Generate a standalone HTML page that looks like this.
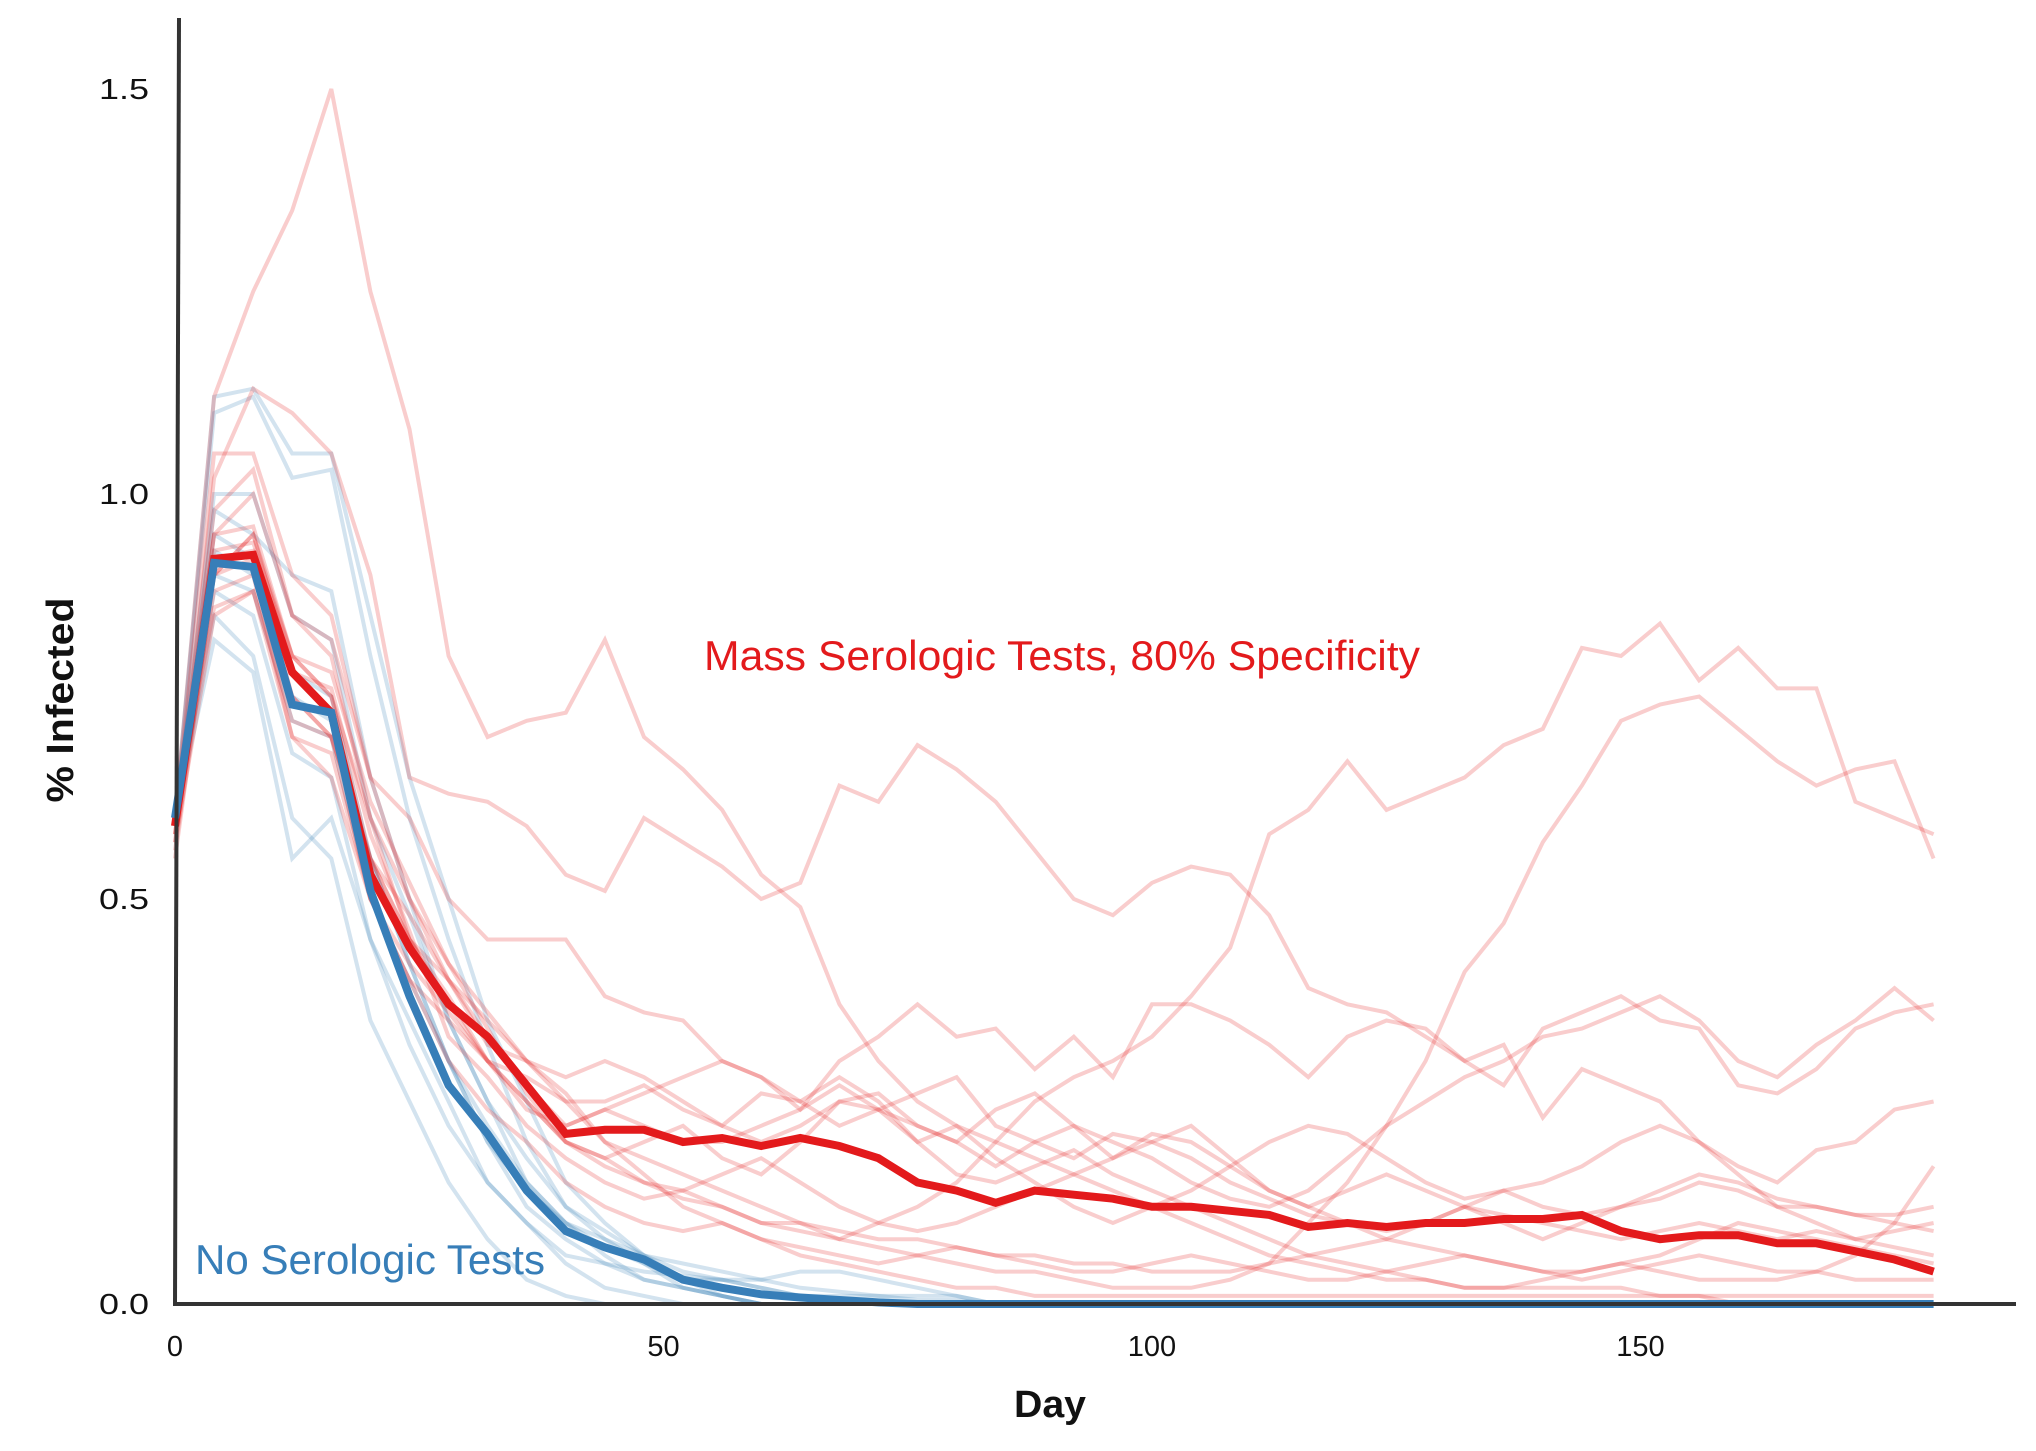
<!DOCTYPE html>
<html><head><meta charset="utf-8"><style>
html,body{margin:0;padding:0;background:#fff;}
svg{display:block;}
</style></head><body>
<svg id="chart" width="2036" height="1451" viewBox="0 0 2036 1451" xmlns="http://www.w3.org/2000/svg">
<g id="faint"></g>
<g id="means"></g>
<line x1="179" y1="18" x2="175" y2="1304" stroke="#333" stroke-width="4"/>
<line x1="173" y1="1304" x2="2016" y2="1304" stroke="#333" stroke-width="4"/>
<g id="ticks"></g>
<text transform="translate(73,700) rotate(-90)" text-anchor="middle" font-family="'Liberation Sans Narrow','Liberation Sans',sans-serif" font-weight="bold" font-size="38" textLength="205" lengthAdjust="spacingAndGlyphs" fill="#111">% Infected</text>
<text x="1014" y="1417" font-family="'Liberation Sans Narrow','Liberation Sans',sans-serif" font-weight="bold" font-size="38" textLength="72" lengthAdjust="spacingAndGlyphs" fill="#111">Day</text>
<text x="704" y="670" font-family="'Liberation Sans Narrow','Liberation Sans',sans-serif" font-size="42" textLength="716" lengthAdjust="spacingAndGlyphs" fill="#e31a1c">Mass Serologic Tests, 80% Specificity</text>
<text x="195" y="1274" font-family="'Liberation Sans Narrow','Liberation Sans',sans-serif" font-size="42" textLength="350" lengthAdjust="spacingAndGlyphs" fill="#377eb8">No Serologic Tests</text>
</svg>
<script>
const days = [];
for (let d = 0; d <= 180; d += 4) days.push(d);
const yTicks = [0, 0.5, 1.0, 1.5];
const yTickLabels = ["0.0", "0.5", "1.0", "1.5"];
const xTicks = [0, 50, 100, 150];
const xTickLabels = ["0", "50", "100", "150"];
const redMean = [0.59,0.92,0.925,0.78,0.73,0.53,0.44,0.37,0.33,0.27,0.21,0.215,0.215,0.2,0.205,0.195,0.205,0.195,0.18,0.15,0.14,0.125,0.14,0.135,0.13,0.12,0.12,0.115,0.11,0.095,0.1,0.095,0.1,0.1,0.105,0.105,0.11,0.09,0.08,0.085,0.085,0.075,0.075,0.065,0.055,0.04];
const blueMean = [0.6,0.915,0.91,0.74,0.73,0.51,0.38,0.27,0.21,0.14,0.09,0.07,0.055,0.03,0.02,0.012,0.008,0.005,0.002,0,0,0,0,0,0,0,0,0,0,0,0,0,0,0,0,0,0,0,0,0,0,0,0,0,0,0];
const redRuns = [
[0.6,1.12,1.25,1.35,1.5,1.25,1.08,0.8,0.7,0.72,0.73,0.82,0.7,0.66,0.61,0.53,0.49,0.37,0.3,0.25,0.22,0.2,0.18,0.16,0.14,0.12,0.1,0.08,0.06,0.05,0.04,0.03,0.03,0.02,0.02,0.02,0.02,0.02,0.01,0.01,0.01,0.01,0.01,0.01,0.01,0.01],
[0.57,1.02,1.13,1.1,1.05,0.9,0.65,0.63,0.62,0.59,0.53,0.51,0.6,0.57,0.54,0.5,0.52,0.64,0.62,0.69,0.66,0.62,0.56,0.5,0.48,0.52,0.54,0.53,0.48,0.39,0.37,0.36,0.33,0.3,0.32,0.23,0.29,0.27,0.25,0.2,0.16,0.12,0.1,0.08,0.07,0.06],
[0.58,0.95,1.0,0.85,0.8,0.6,0.45,0.4,0.35,0.3,0.25,0.2,0.18,0.16,0.14,0.12,0.1,0.08,0.1,0.12,0.15,0.2,0.25,0.28,0.3,0.33,0.38,0.44,0.58,0.61,0.67,0.61,0.63,0.65,0.69,0.71,0.81,0.8,0.84,0.77,0.81,0.76,0.76,0.62,0.6,0.58],
[0.6,0.9,0.95,0.8,0.75,0.55,0.45,0.37,0.3,0.25,0.2,0.18,0.15,0.13,0.12,0.1,0.09,0.08,0.07,0.06,0.05,0.04,0.04,0.03,0.02,0.02,0.02,0.03,0.05,0.1,0.15,0.22,0.3,0.41,0.47,0.57,0.64,0.72,0.74,0.75,0.71,0.67,0.64,0.66,0.67,0.55],
[0.58,0.98,1.03,0.85,0.82,0.65,0.6,0.5,0.45,0.45,0.45,0.38,0.36,0.35,0.3,0.28,0.24,0.3,0.33,0.37,0.33,0.34,0.29,0.33,0.28,0.37,0.37,0.35,0.32,0.28,0.33,0.35,0.34,0.3,0.27,0.34,0.36,0.38,0.35,0.34,0.27,0.26,0.29,0.34,0.36,0.37],
[0.6,0.92,0.93,0.75,0.7,0.55,0.45,0.38,0.3,0.28,0.25,0.25,0.27,0.24,0.22,0.2,0.22,0.25,0.26,0.22,0.2,0.17,0.2,0.22,0.2,0.18,0.15,0.13,0.12,0.14,0.18,0.22,0.25,0.28,0.3,0.33,0.34,0.36,0.38,0.35,0.3,0.28,0.32,0.35,0.39,0.35],
[0.6,0.88,0.9,0.7,0.65,0.5,0.4,0.35,0.3,0.25,0.2,0.17,0.15,0.14,0.12,0.1,0.1,0.09,0.08,0.08,0.07,0.06,0.06,0.05,0.05,0.04,0.04,0.04,0.05,0.06,0.07,0.08,0.1,0.12,0.14,0.15,0.17,0.2,0.22,0.2,0.17,0.15,0.19,0.2,0.24,0.25],
[0.57,0.85,0.88,0.72,0.7,0.55,0.48,0.4,0.33,0.27,0.22,0.24,0.26,0.28,0.3,0.28,0.25,0.22,0.24,0.26,0.28,0.22,0.2,0.18,0.21,0.2,0.18,0.15,0.13,0.11,0.1,0.08,0.07,0.06,0.05,0.04,0.04,0.05,0.04,0.03,0.03,0.03,0.04,0.06,0.1,0.17],
[0.6,0.95,0.96,0.8,0.75,0.6,0.5,0.4,0.32,0.3,0.28,0.3,0.28,0.25,0.22,0.26,0.25,0.28,0.25,0.2,0.22,0.18,0.15,0.12,0.1,0.12,0.14,0.17,0.2,0.22,0.21,0.18,0.15,0.13,0.14,0.12,0.11,0.12,0.13,0.15,0.14,0.12,0.12,0.11,0.11,0.12],
[0.56,0.9,0.95,0.78,0.76,0.58,0.46,0.33,0.28,0.22,0.18,0.15,0.13,0.14,0.16,0.18,0.15,0.12,0.1,0.09,0.1,0.12,0.14,0.16,0.18,0.21,0.2,0.17,0.14,0.12,0.1,0.09,0.1,0.12,0.11,0.1,0.09,0.08,0.09,0.1,0.09,0.08,0.09,0.08,0.09,0.1],
[0.6,0.86,0.88,0.7,0.68,0.5,0.4,0.3,0.24,0.2,0.15,0.12,0.1,0.09,0.1,0.08,0.07,0.06,0.05,0.06,0.07,0.06,0.05,0.04,0.04,0.05,0.06,0.05,0.04,0.03,0.03,0.04,0.05,0.06,0.05,0.04,0.03,0.04,0.05,0.06,0.05,0.04,0.04,0.03,0.03,0.03],
[0.58,0.93,0.94,0.8,0.78,0.62,0.52,0.42,0.34,0.26,0.2,0.18,0.2,0.22,0.18,0.16,0.2,0.25,0.24,0.2,0.16,0.15,0.17,0.19,0.16,0.14,0.12,0.1,0.08,0.06,0.05,0.04,0.03,0.02,0.02,0.03,0.04,0.05,0.06,0.08,0.1,0.09,0.08,0.07,0.06,0.05],
[0.6,1.05,1.05,0.9,0.85,0.65,0.5,0.42,0.36,0.3,0.26,0.2,0.16,0.12,0.1,0.08,0.06,0.05,0.04,0.03,0.02,0.02,0.01,0.01,0.01,0.01,0.01,0.01,0.01,0.01,0.01,0.01,0.01,0.01,0.01,0.01,0.01,0.01,0.01,0.01,0,0,0,0,0,0],
[0.55,0.9,0.92,0.75,0.7,0.5,0.42,0.36,0.3,0.24,0.22,0.24,0.22,0.2,0.2,0.22,0.24,0.27,0.24,0.22,0.2,0.24,0.26,0.22,0.18,0.2,0.22,0.18,0.14,0.12,0.14,0.16,0.14,0.12,0.1,0.08,0.1,0.12,0.14,0.16,0.15,0.13,0.12,0.11,0.1,0.09]
];
const blueRuns = [
[0.6,1.12,1.13,1.05,1.05,0.85,0.65,0.5,0.35,0.25,0.15,0.1,0.06,0.03,0.01,0,0,0,0,0,0,0,0,0,0,0,0,0,0,0,0,0,0,0,0,0,0,0,0,0,0,0,0,0,0,0],
[0.6,1.1,1.12,1.02,1.03,0.8,0.6,0.45,0.32,0.2,0.12,0.08,0.05,0.02,0.01,0,0,0,0,0,0,0,0,0,0,0,0,0,0,0,0,0,0,0,0,0,0,0,0,0,0,0,0,0,0,0],
[0.6,0.98,0.95,0.9,0.88,0.65,0.5,0.35,0.25,0.15,0.1,0.06,0.03,0.02,0.01,0,0,0,0,0,0,0,0,0,0,0,0,0,0,0,0,0,0,0,0,0,0,0,0,0,0,0,0,0,0,0],
[0.6,0.85,0.8,0.6,0.55,0.35,0.25,0.15,0.08,0.03,0.01,0,0,0,0,0,0,0,0,0,0,0,0,0,0,0,0,0,0,0,0,0,0,0,0,0,0,0,0,0,0,0,0,0,0,0],
[0.6,0.82,0.78,0.55,0.6,0.45,0.35,0.25,0.15,0.1,0.05,0.02,0.01,0,0,0,0,0,0,0,0,0,0,0,0,0,0,0,0,0,0,0,0,0,0,0,0,0,0,0,0,0,0,0,0,0],
[0.6,0.95,0.92,0.78,0.75,0.55,0.42,0.3,0.22,0.15,0.1,0.07,0.05,0.03,0.03,0.02,0.01,0.01,0.01,0.005,0.005,0,0,0,0,0,0,0,0,0,0,0,0,0,0,0,0,0,0,0,0,0,0,0,0,0],
[0.6,0.9,0.88,0.72,0.7,0.5,0.4,0.3,0.2,0.14,0.1,0.08,0.06,0.05,0.04,0.03,0.02,0.015,0.01,0.01,0.01,0,0,0,0,0,0,0,0,0,0,0,0,0,0,0,0,0,0,0,0,0,0,0,0,0],
[0.6,1.0,1.0,0.85,0.82,0.6,0.48,0.35,0.25,0.18,0.12,0.09,0.06,0.04,0.03,0.02,0.01,0,0,0,0,0,0,0,0,0,0,0,0,0,0,0,0,0,0,0,0,0,0,0,0,0,0,0,0,0],
[0.6,0.88,0.85,0.68,0.65,0.45,0.32,0.22,0.15,0.1,0.06,0.05,0.04,0.035,0.03,0.03,0.04,0.04,0.03,0.02,0.01,0,0,0,0,0,0,0,0,0,0,0,0,0,0,0,0,0,0,0,0,0,0,0,0,0],
[0.6,0.93,0.9,0.75,0.72,0.55,0.42,0.3,0.2,0.12,0.08,0.05,0.03,0.02,0.01,0,0,0,0,0,0,0,0,0,0,0,0,0,0,0,0,0,0,0,0,0,0,0,0,0,0,0,0,0,0,0]
];

const NS = "http://www.w3.org/2000/svg";
function xScale(d) { return 175 + d * 9.77; }
function yScale(v) { return 1304 - v * 810; }
function pathFor(vals) {
  return vals.map((v, i) => (i ? "L" : "M") + xScale(days[i]).toFixed(1) + "," + yScale(v).toFixed(1)).join("");
}
function addPath(parent, vals, color, width, opacity, name) {
  const p = document.createElementNS(NS, "path");
  p.setAttribute("d", pathFor(vals));
  p.setAttribute("fill", "none");
  p.setAttribute("stroke", color);
  p.setAttribute("stroke-width", width);
  p.setAttribute("stroke-opacity", opacity);
  p.setAttribute("stroke-linejoin", "miter");
  
  
  parent.appendChild(p);
}
const faint = document.getElementById("faint");
blueRuns.forEach(r => addPath(faint, r, "#377eb8", 4, 0.22, "blue-run-line"));
redRuns.forEach(r => addPath(faint, r, "#e31a1c", 4, 0.22, "red-run-line"));
const means = document.getElementById("means");
addPath(means, redMean, "#e31a1c", 8, 1, "red-mean-line");
addPath(means, blueMean, "#377eb8", 8, 1, "blue-mean-line");

const ticks = document.getElementById("ticks");
yTicks.forEach((v, i) => {
  const t = document.createElementNS(NS, "text");
  t.setAttribute("x", 149);
  t.setAttribute("y", yScale(v) + 10);
  t.setAttribute("text-anchor", "end");
  t.setAttribute("font-family", "'Liberation Sans',sans-serif");
  t.setAttribute("font-size", "29");
  t.setAttribute("textLength", "50");
  t.setAttribute("lengthAdjust", "spacingAndGlyphs");
  t.setAttribute("fill", "#111");
  t.textContent = yTickLabels[i];
  
  
  ticks.appendChild(t);
});
xTicks.forEach((v, i) => {
  const t = document.createElementNS(NS, "text");
  t.setAttribute("x", xScale(v));
  t.setAttribute("y", 1356);
  t.setAttribute("text-anchor", "middle");
  t.setAttribute("font-family", "'Liberation Sans',sans-serif");
  t.setAttribute("font-size", "29");
  t.setAttribute("fill", "#111");
  t.textContent = xTickLabels[i];
  
  
  ticks.appendChild(t);
});
</script>
</body></html>
